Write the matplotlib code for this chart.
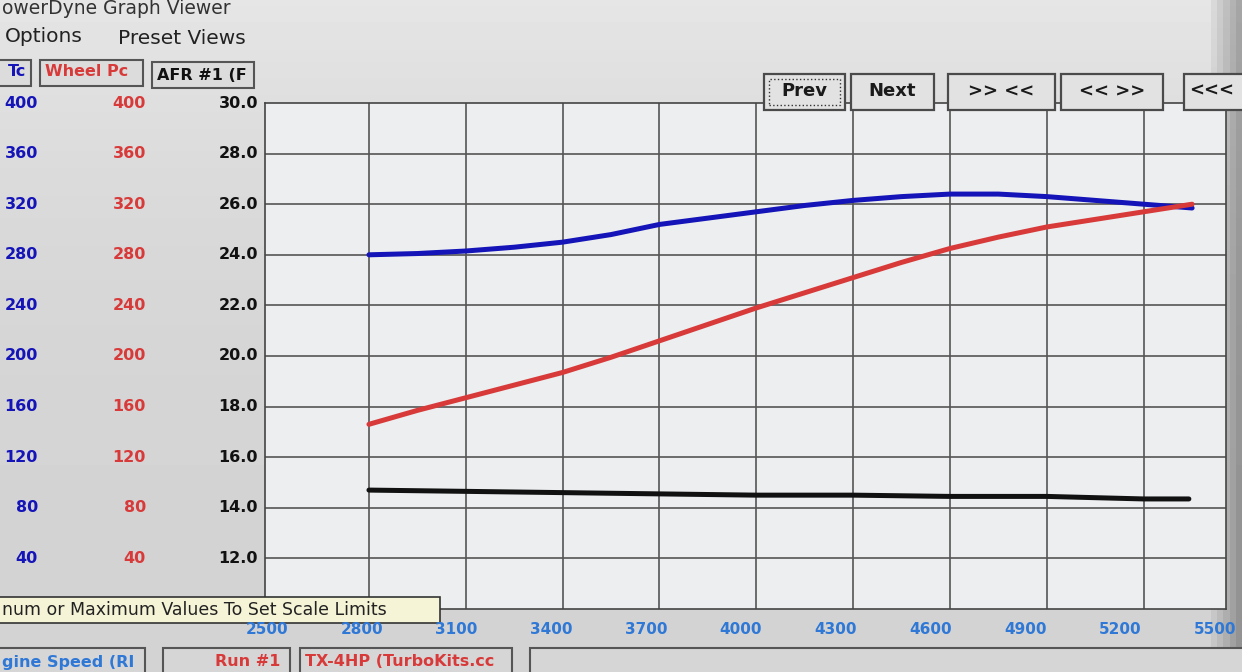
import matplotlib
matplotlib.use("Agg")
import matplotlib.pyplot as plt
import matplotlib.transforms as mtransforms
from matplotlib.patches import Rectangle
import numpy as np

W, H = 1242, 672

# values
rpm = [2800, 2950, 3100, 3250, 3400, 3550, 3700, 3850, 4000, 4150,
       4300, 4450, 4600, 4750, 4900, 5050, 5200, 5350]
wheel_torque = [280, 281, 283, 286, 290, 296, 304, 309, 314, 319,
                323, 326, 328, 328, 326, 323, 320, 317]
wheel_power = [146, 157, 167, 177, 187, 199, 212, 225, 238, 250,
               262, 274, 285, 294, 302, 308, 314, 320]
afr_rpm = [2800, 3100, 3400, 3700, 4000, 4300, 4600, 4900, 5200, 5340]
afr = [14.7, 14.65, 14.6, 14.55, 14.5, 14.5, 14.45, 14.45, 14.35, 14.35]

rpm_ticks = [2500, 2800, 3100, 3400, 3700, 4000, 4300, 4600, 4900, 5200, 5500]
torque_ticks = [40, 80, 120, 160, 200, 240, 280, 320, 360, 400]
power_ticks = [40, 80, 120, 160, 200, 240, 280, 320, 360, 400]
afr_ticks = [12.0, 14.0, 16.0, 18.0, 20.0, 22.0, 24.0, 26.0, 28.0, 30.0]

BLUE = "#1414b8"
RED = "#d83a3a"
TICK_BLUE = "#2f78d6"


def fx(x):
    return x / W


def fy(y):
    return 1 - y / H


def to_afr(v):
    # torque / power scale 0..400 shares the AFR 10..30 axis
    return 10 + v / 20.0


fig = plt.figure(figsize=(W / 100, H / 100), dpi=100)

# photographed-screen background
bg = fig.add_axes([0, 0, 1, 1], zorder=-5)
xx = np.linspace(0, 1, 200)
yy = np.linspace(0, 1, 120)[:, None]
shade = 0.83 + 0.07 * (1 - yy) ** 3 - 0.25 * np.clip((xx - 0.975) / 0.025, 0, 1)
bg.imshow(np.clip(shade, 0, 1), cmap="gray", vmin=0, vmax=1, aspect="auto",
          extent=[0, 1, 0, 1], origin="upper")
bg.set_axis_off()

ax = fig.add_axes([fx(265), fy(609), fx(1226) - fx(265), fy(103) - fy(609)])
ax.set_facecolor("#eceef0")
ax.set_xlim(2478, 5455)
ax.set_ylim(10, 30)
for v in rpm_ticks[1:-1]:
    ax.axvline(v, color="#555555", linewidth=1.2, zorder=1)
for v in afr_ticks[:-1]:
    ax.axhline(v, color="#555555", linewidth=1.2, zorder=1)
ax.set_xticks([])
ax.set_yticks([])
for s in ax.spines.values():
    s.set_color("#444444")
    s.set_linewidth(1.2)

ax.plot(rpm, [to_afr(v) for v in wheel_torque], color=BLUE, linewidth=3.6,
        solid_capstyle="round", zorder=3)
ax.plot(rpm, [to_afr(v) for v in wheel_power], color=RED, linewidth=3.6,
        solid_capstyle="round", zorder=4)
ax.plot(afr_rpm, afr, color="#111111", linewidth=3.6, solid_capstyle="round", zorder=3)

# left scales
ytrans = mtransforms.blended_transform_factory(fig.transFigure, ax.transData)
for t in afr_ticks:
    ax.text(fx(258), t, f"{t:.1f}", transform=ytrans, ha="right", va="center",
            fontsize=11.5, fontweight="bold", color="#111111", clip_on=False)
for t in torque_ticks:
    ax.text(fx(38), to_afr(t), str(t), transform=ytrans, ha="right", va="center",
            fontsize=11.5, fontweight="bold", color=BLUE, clip_on=False)
for t in power_ticks:
    ax.text(fx(146), to_afr(t), str(t), transform=ytrans, ha="right", va="center",
            fontsize=11.5, fontweight="bold", color=RED, clip_on=False)

# rpm labels sit a little left of their gridlines (screen photographed at an angle)
lo, hi = rpm_ticks[0], rpm_ticks[-1]
for t in rpm_ticks:
    xp = 267 + (t - lo) / (hi - lo) * (1215 - 267)
    fig.text(fx(xp), fy(630), str(t), ha="center", va="center",
             fontsize=11, fontweight="bold", color=TICK_BLUE)


def box(x0, y0, x1, y1, face="#d4d4d4", edge="#555555", lw=1.5):
    fig.patches.append(Rectangle((fx(x0), fy(y1)), fx(x1) - fx(x0), fy(y0) - fy(y1),
                                 transform=fig.transFigure, facecolor=face,
                                 edgecolor=edge, linewidth=lw, zorder=2))


# title bar and menu
fig.text(fx(2), fy(9), "owerDyne Graph Viewer", fontsize=13.5, color="#333333",
         ha="left", va="center")
fig.text(fx(5), fy(36), "Options", fontsize=14.5, color="#222222", va="center")
fig.text(fx(118), fy(38), "Preset Views", fontsize=14.5, color="#222222", va="center")

# channel header boxes
box(-5, 60, 31, 86, face="#dcdcdc")
box(40, 60, 143, 86, face="#dcdcdc")
box(152, 62, 254, 88, face="#dcdcdc")
fig.text(fx(8), fy(72), "Tc", fontsize=11.5, fontweight="bold", color=BLUE, va="center")
fig.text(fx(45), fy(72), "Wheel Pc", fontsize=11.5, fontweight="bold", color=RED,
         va="center")
fig.text(fx(157), fy(75), "AFR #1 (F", fontsize=11.5, fontweight="bold",
         color="#111111", va="center")

# navigation buttons
buttons = [("Prev", 764, 845), ("Next", 851, 934), (">> <<", 948, 1055),
           ("<< >>", 1061, 1163), ("<<<", 1184, 1260)]
for label, x0, x1 in buttons:
    box(x0, 74, x1, 110, face="#e2e2e2", edge="#4a4a4a", lw=1.6)
    fig.text(fx((x0 + x1) / 2 if x1 < W else x0 + 28), fy(91), label, fontsize=13,
             fontweight="bold", color="#1a1a1a", ha="center", va="center", zorder=3)
fig.patches.append(Rectangle((fx(769), fy(105)), fx(840) - fx(769), fy(79) - fy(105),
                             transform=fig.transFigure, facecolor="none",
                             edgecolor="#333333", linewidth=1, linestyle=":", zorder=3))

# tooltip over the lower-left corner
box(-5, 597, 440, 623, face="#f6f4d6", edge="#333333", lw=1.2)
fig.text(fx(2), fy(610), "num or Maximum Values To Set Scale Limits", fontsize=12.5,
         color="#222222", va="center", zorder=3)

# bottom status row
box(-5, 648, 145, 680, face="#d6d6d6")
box(163, 648, 290, 680, face="#d6d6d6")
box(300, 648, 512, 680, face="#d6d6d6")
box(530, 648, 1260, 680, face="#d6d6d6")
fig.text(fx(2), fy(662), "gine Speed (RI", fontsize=11.5, fontweight="bold",
         color=TICK_BLUE, va="center", zorder=3)
fig.text(fx(280), fy(661), "Run #1", fontsize=11.5, fontweight="bold", color=RED,
         ha="right", va="center", zorder=3)
fig.text(fx(305), fy(661), "TX-4HP (TurboKits.cc", fontsize=11.5, fontweight="bold",
         color=RED, va="center", zorder=3)

fig.savefig("out.png", dpi=100)
